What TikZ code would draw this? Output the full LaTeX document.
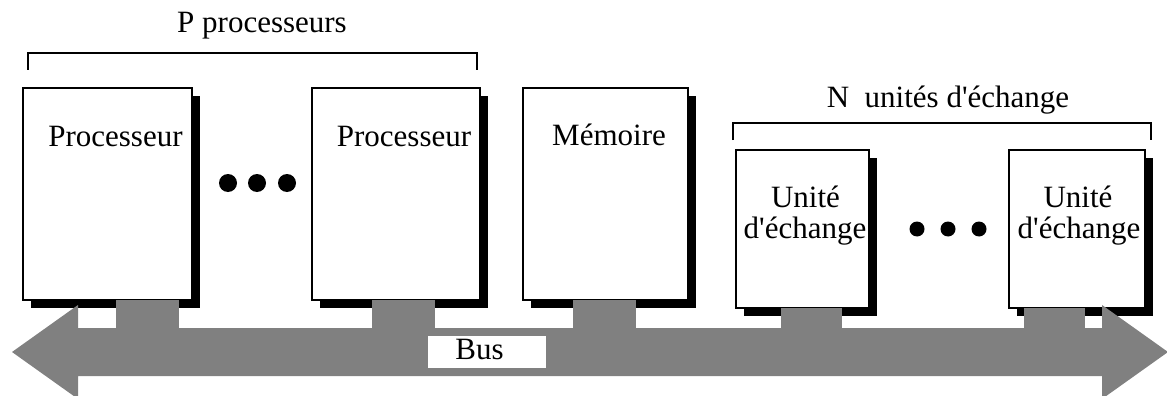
\documentclass[tikz,border=0pt]{standalone}
\usepackage{fontspec}
\newfontfamily\tnr{Liberation Serif}
\usetikzlibrary{shadows}
\definecolor{busgray}{HTML}{808080}
\begin{document}
\begin{tikzpicture}[x=1pt,y=-1pt,
  box/.style={draw=black, line width=1.6pt, fill=white, inner sep=0pt,
    drop shadow={shadow xshift=8pt, shadow yshift=-8pt, opacity=1, fill=black}},
  lbl/.style={font=\tnr\fontsize{31}{31}\selectfont, inner sep=0pt, anchor=base},
  bracketline/.style={line width=1.5pt},
  bigdot/.style={circle, fill=black, inner sep=0pt, minimum size=18pt},
  smalldot/.style={circle, fill=black, inner sep=0pt, minimum size=15pt}
]
\useasboundingbox (0,0) rectangle (1167,396);
\clip (0,0) rectangle (1167,396);

% brackets and group labels
\node[lbl] (plbl) at (262,33) {P processeurs};
\draw[bracketline] (28,70) -- (28,53) -- (477,53) -- (477,70);
\node[lbl] (nlbl) at (948,107) {N\ \ unités d'échange};
\draw[bracketline] (733,140) -- (733,123) -- (1151,123) -- (1151,140);

% boxes
\node[box, minimum width=169pt, minimum height=212pt] (p1) at (107.5,194) {};
\node[box, minimum width=168pt, minimum height=212pt] (p2) at (396,194) {};
\node[box, minimum width=165pt, minimum height=212pt] (mem) at (605.5,194) {};
\node[box, minimum width=133pt, minimum height=158pt] (u1) at (802.5,229) {};
\node[box, minimum width=136pt, minimum height=158pt] (u2) at (1077,229) {};

% box labels
\node[lbl] (tp1) at (115.5,146) {Processeur};
\node[lbl] (tp2) at (404,146) {Processeur};
\node[lbl] (tmem) at (609,145) {Mémoire};
\node[lbl] (tu1a) at (805.5,207) {Unité};
\node[lbl] (tu1b) at (805,238) {d'échange};
\node[lbl] (tu2a) at (1078,207) {Unité};
\node[lbl] (tu2b) at (1079,238) {d'échange};

% ellipsis dots
\node[bigdot] (d1) at (228,183) {};
\node[bigdot] (d2) at (257,183) {};
\node[bigdot] (d3) at (287,183) {};
\node[smalldot] (e1) at (917,229) {};
\node[smalldot] (e2) at (948,229) {};
\node[smalldot] (e3) at (979,229) {};

% bus
\coordinate (busTop) at (0,330);
\coordinate (s1) at (147.5,300);
\coordinate (s2) at (403.5,300);
\coordinate (s3) at (604.5,300);
\coordinate (s4) at (811.5,308);
\coordinate (s5) at (1054.5,308);
\draw[busgray, line width=63pt] (s1) -- (s1 |- busTop);
\draw[busgray, line width=63pt] (s2) -- (s2 |- busTop);
\draw[busgray, line width=63pt] (s3) -- (s3 |- busTop);
\draw[busgray, line width=61pt] (s4) -- (s4 |- busTop);
\draw[busgray, line width=61pt] (s5) -- (s5 |- busTop);
\fill[busgray] (12,352) -- (78,305) -- (78,328) -- (1102,328) -- (1102,305)
  -- (1168,352) -- (1102,399) -- (1102,376) -- (78,376) -- (78,399) -- cycle;
\node[fill=white, inner sep=0pt, minimum width=118pt, minimum height=32pt] (buslblbox) at (487,352) {};
\node[lbl] (buslbl) at (479.5,359) {Bus};
\end{tikzpicture}
\end{document}
